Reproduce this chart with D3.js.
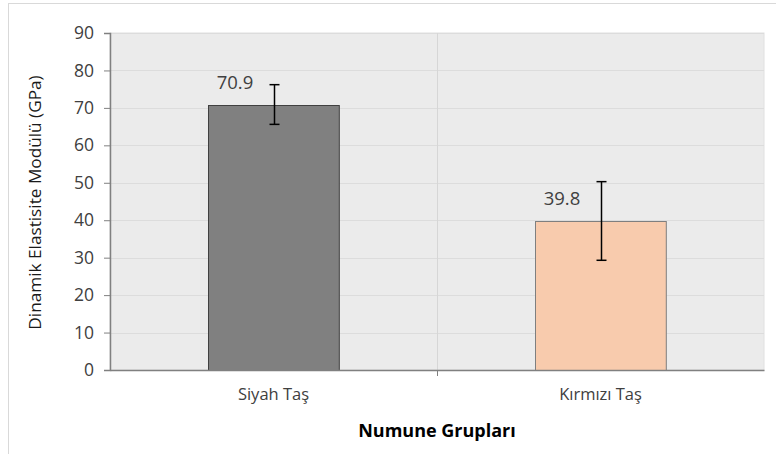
<!DOCTYPE html>
<html>
<head>
<meta charset="utf-8">
<script src="https://cdn.jsdelivr.net/npm/d3@7"></script>
<style>
	body { margin: 0; background: #fff; }
	text { font-family: "Open Sans", "Liberation Sans", sans-serif; fill: #404040; }
</style>
</head>
<body>
<svg id="chart" width="776" height="454"></svg>
<script>
// chart values
const categories = ['Siyah Taş', 'Kırmızı Taş']
const values = [70.9, 39.8]
const errors = [5.3, 10.5]
const barColors = ['#808080', '#f8cbad']
const barStrokes = ['#404040', '#7f7f7f']
const yTicks = [0, 10, 20, 30, 40, 50, 60, 70, 80, 90]
const yTitle = 'Dinamik Elastisite Modülü (GPa)'
const xTitle = 'Numune Grupları'

const svg = d3.select('#chart')
const plot = {left: 110, top: 33, right: 764, bottom: 370}

// outer frame
svg.append('rect')
	.attr('x', 8.5).attr('y', 3.5)
	.attr('width', 800).attr('height', 500)
	.style('fill', 'none')
	.style('stroke', '#d9d9d9')

let x = d3.scaleBand()
	.domain(categories)
	.range([plot.left, plot.right])
	.paddingInner(0)
	.paddingOuter(0)

let y = d3.scaleLinear()
	.domain([0, 90])
	.range([plot.bottom, plot.top])

svg.append('rect')
	.attr('x', plot.left).attr('y', plot.top)
	.attr('width', plot.right - plot.left)
	.attr('height', plot.bottom - plot.top)
	.style('fill', '#ebebeb')
	.style('stroke', '#e0e0e0')

// gridlines
svg.append('g')
	.selectAll('line')
	.data(yTicks.slice(1))
	.enter()
	.append('line')
	.attr('x1', plot.left).attr('x2', plot.right)
	.attr('y1', d => Math.round(y(d)) + 0.5)
	.attr('y2', d => Math.round(y(d)) + 0.5)
	.style('stroke', '#dcdcdc')

let sep = x(categories[1])
svg.append('line')
	.attr('x1', sep + 0.5).attr('x2', sep + 0.5)
	.attr('y1', plot.top).attr('y2', plot.bottom)
	.style('stroke', '#d6d6d6')

// bars
let barW = x.bandwidth() * 0.4
svg.append('g')
	.selectAll('rect')
	.data(values)
	.enter()
	.append('rect')
	.attr('x', (d, i) => Math.round(x(categories[i]) + x.bandwidth() / 2 - barW / 2) + 0.5)
	.attr('y', d => Math.round(y(d)) + 0.5)
	.attr('width', barW)
	.attr('height', d => plot.bottom - Math.round(y(d)))
	.style('fill', (d, i) => barColors[i])
	.style('stroke', (d, i) => barStrokes[i])

// error bars + value labels
let eb = svg.append('g')
values.forEach((v, i) => {
	let cx = Math.round(x(categories[i]) + x.bandwidth() / 2) + 0.5
	eb.append('line')
		.attr('x1', cx).attr('x2', cx)
		.attr('y1', y(v + errors[i])).attr('y2', y(v - errors[i]))
		.style('stroke', '#000').style('stroke-width', 1.5)
	;[v + errors[i], v - errors[i]].forEach(e => {
		eb.append('line')
			.attr('x1', cx - 5).attr('x2', cx + 5)
			.attr('y1', y(e)).attr('y2', y(e))
			.style('stroke', '#000').style('stroke-width', 1.5)
	})
	svg.append('text')
		.attr('x', x(categories[i]) + x.bandwidth() / 2 - 38.5)
		.attr('y', y(v) - 15.5)
		.attr('text-anchor', 'middle')
		.style('font-size', '18.5px')
		.text(v.toFixed(1))
})

// axes
let yAxis = svg.append('g')
	.attr('transform', `translate(${plot.left},0)`)
	.call(d3.axisLeft(y).tickValues(yTicks).tickSize(6).tickPadding(10))
yAxis.select('.domain').style('stroke', '#808080').style('stroke-width', 1.5)
yAxis.selectAll('.tick line').style('stroke', '#808080')
yAxis.selectAll('.tick text').style('font-size', '17.5px').style('fill', '#404040').style('font-family', '"Open Sans", sans-serif')

let xAxis = svg.append('g')
	.attr('transform', `translate(0,${plot.bottom})`)
	.call(d3.axisBottom(x).tickSize(0).tickPadding(18))
xAxis.select('.domain').style('stroke', '#808080').style('stroke-width', 1.5)
xAxis.selectAll('.tick text').style('font-size', '16.5px').style('fill', '#404040').style('font-family', '"Open Sans", sans-serif')
xAxis.append('line')
	.attr('x1', sep + 0.5).attr('x2', sep + 0.5)
	.attr('y1', 0).attr('y2', 6)
	.style('stroke', '#808080')

svg.append('text')
	.attr('x', (plot.left + plot.right) / 2)
	.attr('y', 437)
	.attr('text-anchor', 'middle')
	.style('font-size', '18px')
	.style('font-weight', 'bold')
	.style('fill', '#000')
	.text(xTitle)

svg.append('text')
	.attr('transform', `translate(41,${(plot.top + plot.bottom) / 2 + 1}) rotate(-90)`)
	.attr('text-anchor', 'middle')
	.style('font-size', '17.2px')
	.style('fill', '#1a1a1a')
	.text(yTitle)
</script>
</body>
</html>
